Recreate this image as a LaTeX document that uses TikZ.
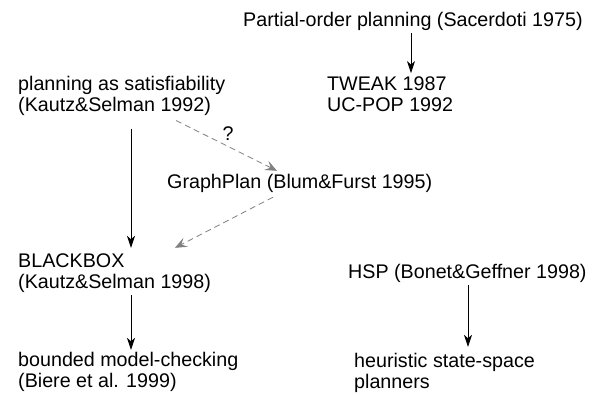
\documentclass[tikz,border=0pt]{standalone}
\usepackage{fontspec}
\setmainfont{Liberation Sans}
\usetikzlibrary{arrows.meta}
\definecolor{dashgray}{HTML}{808080}
\begin{document}
\begin{tikzpicture}[x=1pt,y=-1pt,
  every node/.style={inner sep=0pt, font=\fontsize{19.7}{21}\selectfont},
  lbl/.style={anchor=base west},
  arr/.style={line width=0.8pt, -{Stealth[length=12pt,width=8pt,inset=3.5pt]}},
  darr/.style={line width=0.8pt, dashgray, dash pattern=on 6pt off 4pt,
               -{Stealth[length=12pt,width=10pt,inset=5pt]}}]
\useasboundingbox (0,0) rectangle (602,394);
\newcommand{\lines}[1]{\begin{tabular}[t]{@{}l@{}}#1\end{tabular}}
\node[lbl] (po)  at (243,26)  {\lines{Partial-order planning (Sacerdoti 1975)}};
\node[lbl] (tw)  at (327,90)  {\lines{TWEAK 1987\\UC-POP 1992}};
\node[lbl] (ps)  at (18,90)   {\lines{planning as satisfiability\\(Kautz\&Selman 1992)}};
\node[lbl] (gp)  at (167,188) {\lines{GraphPlan (Blum\&Furst 1995)}};
\node[lbl] (bb)  at (18,267)  {\lines{BLACKBOX\\(Kautz\&Selman 1998)}};
\node[lbl] (hsp) at (348,278) {\lines{HSP (Bonet\&Geffner 1998)}};
\node[lbl] (bm)  at (18,366)  {\lines{bounded model-checking\\(Biere et al. 1999)}};
\node[lbl] (hs)  at (354,367) {\lines{heuristic state-space\\planners}};
\node (q) at (228,134) {?};
% connectors
\draw[arr] ([xshift=168pt,yshift=-0.5pt]po.south west) -- ([xshift=84pt,yshift=2pt]tw.north west);
\draw[arr] ([xshift=113pt,yshift=-11pt]ps.south west) -- ([xshift=113pt,yshift=4.3pt]bb.north west);
\draw[darr] ([xshift=158pt,yshift=-3pt]ps.south west) -- ([xshift=110pt,yshift=2.3pt]gp.north west);
\draw[darr] ([xshift=106pt,yshift=-2.7pt]gp.south west) -- ([xshift=157pt,yshift=4.3pt]bb.north west);
\draw[arr] ([xshift=113pt,yshift=-0.7pt]bb.south west) -- ([xshift=113pt,yshift=1.3pt]bm.north west);
\draw[arr] ([xshift=120pt,yshift=-0.7pt]hsp.south west) -- ([xshift=114pt,yshift=5.3pt]hs.north west);
\end{tikzpicture}
\end{document}
